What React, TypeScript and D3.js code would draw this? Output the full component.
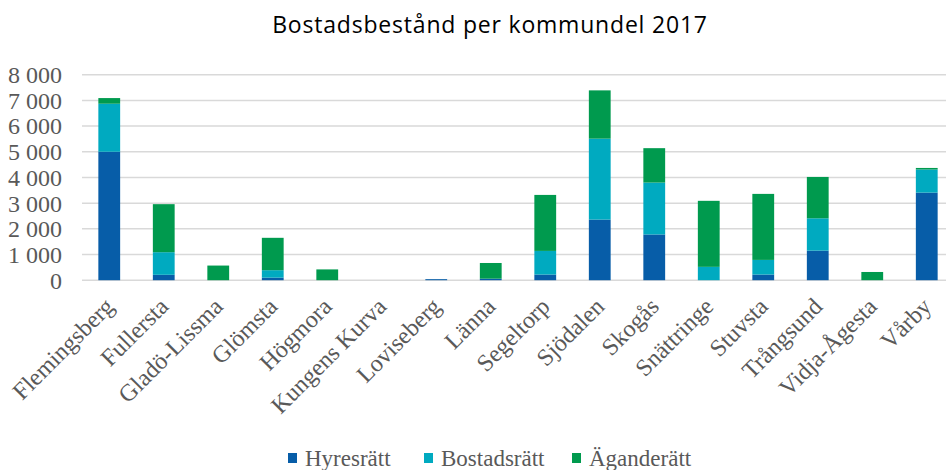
import React, { useEffect, useRef } from "react";
import { select, scaleBand, scaleLinear, stack, range, formatLocale } from "d3";

const categories = [
  "Flemingsberg",
  "Fullersta",
  "Gladö-Lissma",
  "Glömsta",
  "Högmora",
  "Kungens Kurva",
  "Loviseberg",
  "Länna",
  "Segeltorp",
  "Sjödalen",
  "Skogås",
  "Snättringe",
  "Stuvsta",
  "Trångsund",
  "Vidja-Ågesta",
  "Vårby",
];
const seriesNames = ["Hyresrätt", "Bostadsrätt", "Äganderätt"];
const hyresratt = [5000, 210, 0, 100, 0, 0, 40, 60, 220, 2360, 1780, 0, 220, 1150, 0, 3410];
const bostadsratt = [1870, 880, 0, 290, 0, 0, 0, 0, 920, 3150, 2020, 520, 570, 1260, 0, 900];
const aganderatt = [220, 1870, 570, 1260, 420, 0, 0, 610, 2180, 1880, 1340, 2570, 2570, 1610, 320, 60];
const colors = ["#075da8", "#00aac0", "#009a4e"];
const yTicks = range(0, 8001, 1000);

const fmt = formatLocale({ decimal: ",", thousands: " ", grouping: [3], currency: ["", " kr"] }).format(",d");

export default function App() {
  const svgRef = useRef(null);
  const width = 946,
    height = 470;
  const margin = { left: 82, right: -8, top: 74.7, bottom: 189.8 };

  useEffect(() => {
    const svg = select(svgRef.current);
    svg.selectAll("*").remove();

    const rows = categories.map((c, i) => ({
      name: c,
      Hyresrätt: hyresratt[i],
      Bostadsrätt: bostadsratt[i],
      Äganderätt: aganderatt[i],
    }));

    const x = scaleBand()
      .domain(categories)
      .range([margin.left, width - margin.right])
      .paddingInner(0.6)
      .paddingOuter(0.3);
    const y = scaleLinear()
      .domain([0, 8000])
      .range([height - margin.bottom, margin.top]);

    // title
    svg
      .append("text")
      .attr("x", 490)
      .attr("y", 33)
      .attr("text-anchor", "middle")
      .attr("font-family", "'Open Sans', sans-serif")
      .attr("font-size", 23)
      .attr("letter-spacing", 0.8)
      .attr("fill", "#000")
      .text("Bostadsbestånd per kommundel 2017");

    // gridlines
    svg
      .append("g")
      .selectAll("line")
      .data(yTicks)
      .join("line")
      .attr("x1", margin.left)
      .attr("x2", width)
      .attr("y1", (d) => y(d))
      .attr("y2", (d) => y(d))
      .attr("stroke", "#d9d9d9")
      .attr("stroke-width", 1.5);

    // y labels
    svg
      .append("g")
      .selectAll("text")
      .data(yTicks)
      .join("text")
      .attr("x", 62)
      .attr("y", (d) => y(d))
      .attr("dy", "0.35em")
      .attr("text-anchor", "end")
      .attr("font-family", "'Liberation Serif', serif")
      .attr("font-size", 24)
      .attr("fill", "#595959")
      .text((d) => fmt(d));

    // bars
    const stacked = stack().keys(seriesNames)(rows);
    svg
      .append("g")
      .selectAll("g")
      .data(stacked)
      .join("g")
      .attr("fill", (d, i) => colors[i])
      .selectAll("rect")
      .data((d) => d.filter((p) => p[1] - p[0] > 0))
      .join("rect")
      .attr("x", (d) => x(d.data.name))
      .attr("y", (d) => y(d[1]))
      .attr("width", x.bandwidth())
      .attr("height", (d) => y(d[0]) - y(d[1]));

    // x labels
    svg
      .append("g")
      .selectAll("text")
      .data(categories)
      .join("text")
      .attr("text-anchor", "end")
      .attr(
        "transform",
        (d) => "translate(" + (x(d) + x.bandwidth() / 2 + 6) + ", 308) rotate(-45)"
      )
      .attr("font-family", "'Liberation Serif', serif")
      .attr("font-size", 24)
      .attr("fill", "#595959")
      .text((d) => d);

    // legend
    const legendX = [288, 424, 572];
    const lg = svg
      .append("g")
      .selectAll("g")
      .data(seriesNames)
      .join("g")
      .attr("transform", (d, i) => "translate(" + legendX[i] + ", 0)");
    lg.append("rect")
      .attr("x", 0)
      .attr("y", 453)
      .attr("width", 9)
      .attr("height", 10)
      .attr("fill", (d, i) => colors[i]);
    lg.append("text")
      .attr("x", 17)
      .attr("y", 466)
      .attr("font-family", "'Liberation Serif', serif")
      .attr("font-size", 23)
      .attr("fill", "#595959")
      .text((d) => d);
  }, []);

  return (
    <svg
      ref={svgRef}
      width={width}
      height={height}
      style={{ position: "absolute", left: 0, top: 0, background: "#fff" }}
    ></svg>
  );
}
